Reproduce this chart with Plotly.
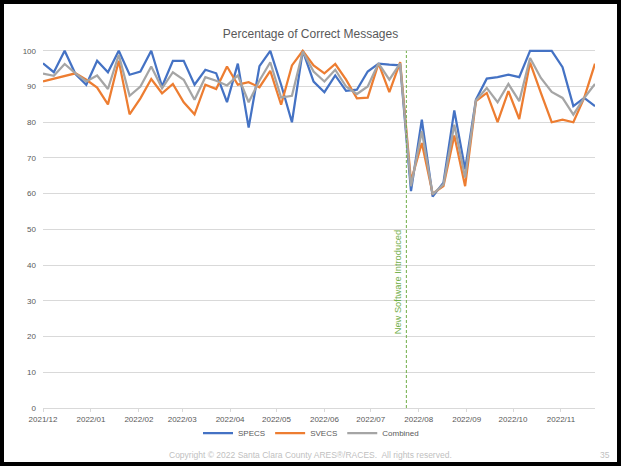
import plotly.graph_objects as go
import pandas as pd

# ---- data (weekly) ----
start_date = "2021-12-01"
n_weeks = 52
dates = pd.date_range(start_date, periods=n_weeks, freq="7D")

specs = [96.5, 94.0, 100, 93.5, 90.5, 97.2, 94.0, 100, 93.3, 94.2,
         100, 90.0, 97.2, 97.2, 90.5, 94.7, 93.7, 85.6, 96.4, 78.5,
         95.7, 100, 90.5, 80.0, 100, 91.4, 88.4, 93.1, 88.8, 89.1,
         94.2, 96.4, 96.1, 95.9, 60.7, 80.7, 59.2, 63.1, 83.3, 66.8,
         86.3, 92.2, 92.6, 93.3, 92.6, 100, 100, 100, 95.4, 84.5,
         86.8, 84.5]
svecs = [91.4, 92.1, 93.0, 93.7, 91.9, 89.7, 85.0, 97.2, 82.2, 86.7,
         92.1, 88.1, 90.7, 85.6, 82.2, 90.5, 89.3, 95.6, 90.5, 91.2,
         89.8, 94.4, 84.9, 95.9, 100, 95.9, 93.7, 96.3, 91.9, 86.7,
         86.9, 96.5, 88.4, 96.8, 63.5, 74.2, 60.0, 62.1, 76.3, 62.1,
         85.9, 88.2, 80.0, 88.7, 80.9, 96.7, 88.2, 80.0, 80.7, 80.0,
         86.8, 96.4]
combined = [93.6, 93.0, 96.3, 93.7, 91.4, 93.1, 89.3, 98.9, 87.4, 90.0,
            95.6, 89.5, 94.0, 91.9, 86.3, 92.6, 91.6, 90.3, 93.1, 85.6,
            91.7, 96.8, 86.9, 87.4, 99.8, 94.2, 91.4, 94.7, 90.0, 87.9,
            90.0, 96.5, 91.9, 96.5, 62.1, 77.5, 59.8, 62.6, 79.3, 64.5,
            86.1, 89.6, 85.6, 90.7, 85.9, 98.0, 92.4, 88.5, 86.8, 82.1,
            86.8, 90.7]
series_names = ["SPECS", "SVECS", "Combined"]
series_colors = ["#4472C4", "#ED7D31", "#A5A5A5"]

tick_dates = pd.date_range("2021-12-01", "2022-11-01", freq="MS")
tick_labels = [d.strftime("%Y/%m") for d in tick_dates]

event_date = "2022-07-24"
event_label = "New Software Introduced"
title_text = "Percentage of Correct Messages"
footer_text = "Copyright © 2022 Santa Clara County ARES®/RACES.  All rights reserved."
page_number = "35"

# ---- figure ----
W, H = 621, 466
ml, mr, mt, mb = 43, 26, 49, 58
pw, ph = W - ml - mr, H - mt - mb
def px(x):
    return (x - ml) / pw
def py(y):
    return (H - mb - y) / ph

fig = go.Figure()
for name, vals, col in zip(series_names, [specs, svecs, combined], series_colors):
    fig.add_trace(go.Scatter(x=dates, y=vals, mode="lines", name=name,
                             line=dict(color=col, width=2.25)))

fig.update_layout(
    width=W, height=H,
    margin=dict(l=ml, r=mr, t=mt, b=mb),
    paper_bgcolor="white", plot_bgcolor="white",
    font=dict(family="Liberation Sans, Arial, sans-serif", color="#595959", size=8),
    title=dict(text=title_text, x=0.5, xref="container", xanchor="center",
               y=1 - 34 / H, yref="container", yanchor="middle",
               font=dict(size=12, color="#595959")),
    showlegend=True,
    legend=dict(orientation="h", x=px(311), xanchor="center", y=py(433), yanchor="middle",
                font=dict(size=8, color="#595959"), itemwidth=30,
                bgcolor="rgba(0,0,0,0)"),
    xaxis=dict(type="date", range=[dates[0], dates[-1]],
               tickvals=tick_dates, ticktext=tick_labels,
               showgrid=False, showline=True, linecolor="#D9D9D9", linewidth=1,
               ticks="outside", ticklen=3, tickcolor="#D9D9D9",
               tickfont=dict(size=8, color="#595959"), zeroline=False),
    yaxis=dict(range=[0, 100.5], tick0=0, dtick=10, showgrid=True,
               gridcolor="#D9D9D9", gridwidth=1, zeroline=False, showline=False,
               ticks="", ticklabelstandoff=6,
               tickfont=dict(size=8, color="#595959")),
)

# dashed event line
fig.add_shape(type="line", xref="x", yref="y", x0=event_date, x1=event_date,
              y0=0, y1=100, line=dict(color="#70AD47", width=1, dash="3px,2px"))
fig.add_annotation(x=event_date, y=35.3, xref="x", yref="y", text=event_label,
                   textangle=-90, showarrow=False, xshift=-8,
                   font=dict(size=9.3, color="#70AD47"))

# footer
fig.add_annotation(x=px(310), y=py(455), xref="paper", yref="paper", text=footer_text,
                   showarrow=False, xanchor="center", yanchor="middle",
                   font=dict(size=8.5, color="#BFBFBF"))
fig.add_annotation(x=px(605), y=py(455), xref="paper", yref="paper", text=page_number,
                   showarrow=False, xanchor="center", yanchor="middle",
                   font=dict(size=8.5, color="#BFBFBF"))

# slide frame
fig.add_shape(type="rect", xref="paper", yref="paper",
              x0=px(2), x1=px(619), y0=py(464), y1=py(2),
              line=dict(color="black", width=4), fillcolor="rgba(0,0,0,0)", layer="above")

fig.write_html("out.html", config={"displayModeBar": False},
               post_script="document.body.style.margin='0px';document.body.style.overflow='hidden';")
